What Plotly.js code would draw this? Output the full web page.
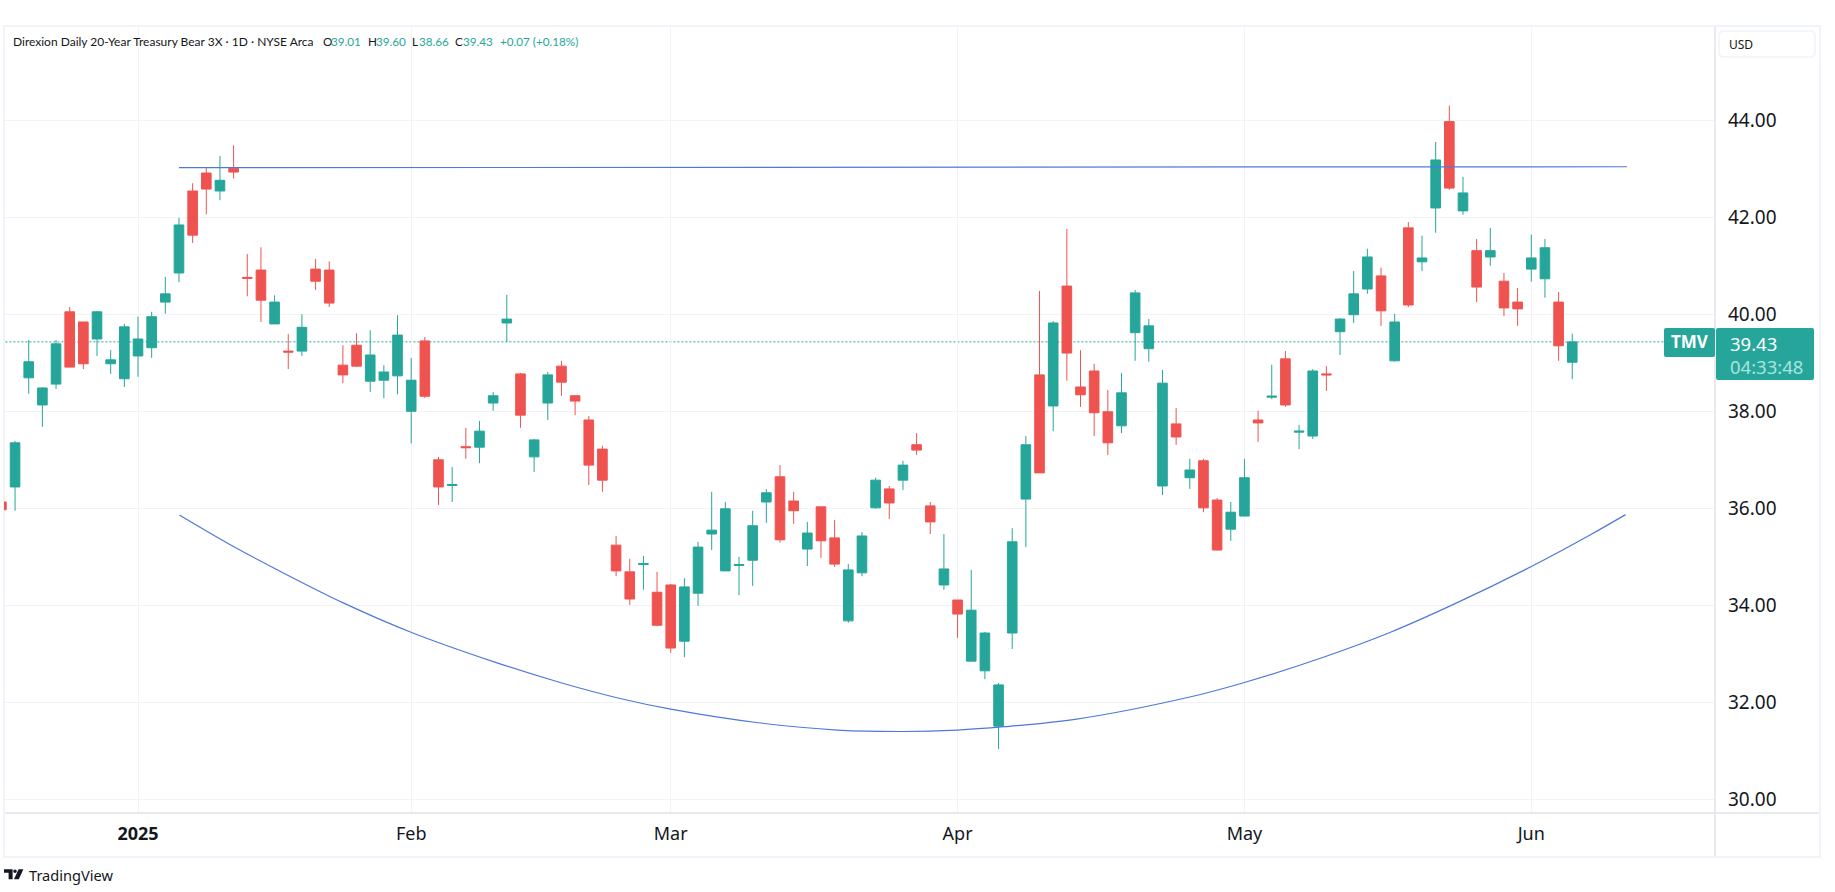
<!DOCTYPE html>
<html>
<head>
<meta charset="utf-8">
<script src="https://cdn.plot.ly/plotly-3.0.1.min.js"></script>
<style>html,body{margin:0;padding:0;background:#fff;overflow:hidden}#chart{width:1835px;height:892px}</style>
</head>
<body>
<div id="chart"></div>
<script>
// Session index: 0 = 2 Jan 2025
const sessions = [-10,-9,-8,-7,-6,-5,-4,-3,-2,-1,
0,1,2,3,4,5,6,7,8,9,10,11,12,13,14,15,16,17,18,19,
20,21,22,23,24,25,26,27,28,29,30,31,32,33,34,35,36,37,38,
39,40,41,42,43,44,45,46,47,48,49,50,51,52,53,54,55,56,57,58,59,
60,61,62,63,64,65,66,67,68,69,70,71,72,73,74,75,76,77,78,79,80,
81,82,83,84,85,86,87,88,89,90,91,92,93,94,95,96,97,98,99,100,101,
102,103,104,105];
const opens = [36.13,36.44,38.69,38.13,38.56,40.05,39.84,39.49,38.98,38.67,
39.14,39.31,40.25,40.85,42.54,42.91,42.54,43.01,40.76,40.91,39.80,39.24,39.24,40.93,40.91,38.95,39.36,38.62,38.64,38.73,
38.00,39.45,37.00,36.47,37.27,37.26,38.17,39.82,38.77,37.06,38.17,38.93,38.32,37.82,37.22,35.24,34.69,34.84,34.27,
34.42,33.26,34.25,35.47,34.71,34.82,34.93,36.13,36.65,36.15,35.16,36.03,35.39,33.68,34.67,36.01,36.40,36.58,37.31,36.05,34.42,
34.11,32.85,32.65,31.51,33.43,36.19,38.75,38.11,40.58,38.50,38.83,37.99,37.70,39.62,39.29,36.46,37.74,36.63,36.98,36.17,35.57,
35.84,37.82,38.29,39.08,37.57,37.49,38.77,39.64,39.99,40.52,40.79,39.04,41.78,41.08,42.19,43.97,42.13,41.31,41.18,40.68,40.25,
40.93,40.73,40.25,39.01];
const highs = [36.16,37.39,39.47,38.50,39.47,40.15,39.84,40.07,39.26,39.80,
39.95,40.05,40.77,41.99,42.70,43.03,43.26,43.48,41.24,41.38,40.39,39.59,40.00,41.14,41.09,39.36,39.61,39.67,38.95,39.98,
39.10,39.53,37.06,36.85,37.66,37.80,38.40,40.40,38.79,37.43,38.81,39.04,38.32,37.90,37.29,35.43,34.96,35.02,34.69,
34.44,34.56,35.31,36.34,36.13,35.00,35.95,36.40,36.89,36.34,35.72,36.03,35.76,34.85,35.51,36.63,36.46,36.98,37.55,36.13,35.47,
34.11,34.73,33.45,32.40,35.59,37.49,40.48,39.86,41.76,39.26,38.98,38.44,38.79,40.50,39.90,38.85,38.07,37.02,37.02,36.21,36.13,
37.02,38.01,38.96,39.24,37.72,38.87,38.93,39.92,40.89,41.35,40.96,40.01,41.90,41.62,43.55,44.30,42.83,41.55,41.78,40.85,40.54,
41.64,41.55,40.46,39.60];
const lows = [35.90,35.95,38.36,37.68,38.46,38.91,38.87,39.14,38.77,38.50,
38.71,39.10,40.01,40.66,41.47,42.06,42.35,42.80,40.37,39.84,39.80,38.87,39.14,40.50,40.15,38.58,38.91,38.40,38.27,38.35,
37.34,38.27,36.07,36.13,37.02,36.93,38.01,39.43,37.66,36.75,37.82,38.32,37.92,36.48,36.34,34.60,34.01,34.32,33.57,
33.02,32.93,33.99,35.14,34.71,34.21,34.40,35.70,35.29,35.68,34.81,34.98,34.79,33.64,34.60,35.99,35.78,36.38,37.10,35.47,34.32,
33.33,32.85,32.48,31.04,33.10,35.20,36.73,37.59,38.63,38.09,37.49,37.10,37.55,39.04,39.02,36.27,37.31,36.40,35.92,35.13,35.33,
35.84,37.37,38.25,38.09,37.22,37.43,38.42,39.16,39.82,40.42,39.76,39.02,40.15,40.89,41.68,42.56,42.05,40.25,41.00,39.96,39.76,
40.67,40.34,39.04,38.66];
const closes = [35.97,37.35,39.02,38.48,39.39,38.91,38.98,40.05,39.06,39.74,
39.49,39.95,40.42,41.84,41.63,42.58,42.76,42.93,40.74,40.29,40.25,39.22,39.73,40.68,40.23,38.75,38.93,39.16,38.81,39.57,
38.64,38.31,36.44,36.49,37.25,37.59,38.32,39.90,37.92,37.41,38.75,38.60,38.21,36.89,36.58,34.71,34.13,34.86,33.59,
33.12,34.38,35.20,35.55,35.99,34.84,35.64,36.32,35.35,35.95,35.49,35.33,34.85,34.73,35.43,36.58,36.11,36.89,37.20,35.72,34.75,
33.82,33.90,33.43,32.36,35.31,37.31,36.73,39.82,39.20,38.34,37.97,37.35,38.38,40.44,39.76,38.58,37.47,36.79,36.01,35.14,35.92,
36.63,37.76,38.31,38.13,37.59,38.83,38.75,39.90,40.42,41.18,40.07,39.84,40.19,41.16,43.18,42.60,42.50,40.56,41.31,40.13,40.11,
41.16,41.37,39.35,39.43];

const monthTicks = [0,20,39,60,81,102];
const monthLabels = ['<b>2025</b>','Feb','Mar','Apr','May','Jun'];
const priceTicks = [30,32,34,36,38,40,42,44];
const priceLabels = ['30.00','32.00','34.00','36.00','38.00','40.00','42.00','44.00'];

const resistanceX = [3,109];
const resistanceY = [43.02,43.04];
const arcX = [3.03,6.49,10.15,15.03,20.03,26.01,30.9,35.3,39,45.4,51.2,56,60,63.4,68.6,77,81,86.78,91.65,96.54,102,106.3,108.9];
const arcY = [35.86,35.29,34.74,34.05,33.44,32.84,32.41,32.08,31.86,31.58,31.43,31.40,31.43,31.50,31.65,32.11,32.41,32.93,33.44,34.05,34.80,35.45,35.87];
const lastPrice = 39.43;

const header = 'Direxion Daily 20-Year Treasury Bear 3X · 1D · NYSE Arca';
const ohlcPieces = [['O',322,'#131722'],['39.01',330,'#26a69a'],['H',367,'#131722'],['39.60',375,'#26a69a'],
['L',411,'#131722'],['38.66',418,'#26a69a'],['C',454,'#131722'],['39.43',462,'#26a69a'],['+0.07 (+0.18%)',499,'#26a69a']];

const W=1835,H=892,L=4,T=27,R=1715,B=813;
const px=X=>(X-L)/(R-L), py=Y=>(B-Y)/(B-T);
const FONT='"Noto Sans", sans-serif';
const HEAD='Lato, sans-serif';
function rr(x0,y0,x1,y1,r){
  const a=(X,Y)=>px(X)+','+py(Y);
  return 'M'+a(x0+r,y0)+' L'+a(x1-r,y0)+' Q'+a(x1,y0)+' '+a(x1,y0+r)+' L'+a(x1,y1-r)+' Q'+a(x1,y1)+' '+a(x1-r,y1)+
         ' L'+a(x0+r,y1)+' Q'+a(x0,y1)+' '+a(x0,y1-r)+' L'+a(x0,y0+r)+' Q'+a(x0,y0)+' '+a(x0+r,y0)+' Z';
}
function poly(pts){return 'M'+pts.map(p=>px(p[0])+','+py(p[1])).join(' L')+' Z';}
function txt(text,X,Y,size,color,anchor,family){
  return {text,x:px(X),y:py(Y),xref:'paper',yref:'paper',showarrow:false,xanchor:anchor||'left',yanchor:'middle',
    borderpad:0,font:{family:family||FONT,size,color}};
}
const shapes=[
 {type:'line',xref:'x',yref:'y',x0:-10,x1:113,y0:lastPrice,y1:lastPrice,layer:'below',line:{color:'#26a69a',width:1,dash:'2px,2px'}},
 {type:'rect',xref:'paper',yref:'paper',x0:px(4),x1:px(1820),y0:py(26),y1:py(857),layer:'below',line:{color:'#f0f3fa',width:2}},
 {type:'line',xref:'paper',yref:'paper',x0:px(1715),x1:px(1715),y0:py(27),y1:py(856),line:{color:'#e0e3eb',width:1.5}},
 {type:'line',xref:'paper',yref:'paper',x0:px(5),x1:px(1819),y0:py(813),y1:py(813),line:{color:'#e0e3eb',width:1.5}},
 {type:'path',xref:'paper',yref:'paper',path:rr(1719,31,1815,57,5),line:{color:'#f0f3fa',width:1.5},fillcolor:'#ffffff'},
 {type:'path',xref:'paper',yref:'paper',path:rr(1664,328,1715,357,2),line:{width:0},fillcolor:'#26a69a'},
 {type:'path',xref:'paper',yref:'paper',path:rr(1716,328,1814,380,2),line:{width:0},fillcolor:'#26a69a'},
 {type:'path',xref:'paper',yref:'paper',path:poly([[4,869.3],[12.6,869.3],[12.6,879.3],[8.6,879.3],[8.6,872.8],[4,872.8]]),line:{width:0},fillcolor:'#131722'},
 {type:'circle',xref:'paper',yref:'paper',x0:px(13.2),x1:px(16.8),y0:py(873),y1:py(869.4),line:{width:0},fillcolor:'#131722'},
 {type:'path',xref:'paper',yref:'paper',path:poly([[18.6,869.3],[23.4,869.3],[18.8,879.3],[14,879.3]]),line:{width:0},fillcolor:'#131722'}
];
const annotations=[
 txt(header,12,41.5,12,'#131722','left',HEAD),
 ...ohlcPieces.map(p=>txt(p[0],p[1],41.5,11.7,p[2],'left',HEAD)),
 txt('USD',1728,44.5,12,'#131722'),
 txt('<b>TMV</b>',1689.5,342,17,'#ffffff','center'),
 txt('39.43',1729,343.5,18.5,'#ffffff'),
 txt('04:33:48',1729,366,18.5,'#a8e4de'),
 txt('TradingView',28,875,14.6,'#131722')
];
const data=[
 {type:'candlestick',x:sessions,open:opens,high:highs,low:lows,close:closes,
  increasing:{line:{color:'#26a69a',width:1},fillcolor:'#26a69a'},
  decreasing:{line:{color:'#ef5350',width:1},fillcolor:'#ef5350'},
  whiskerwidth:0,hoverinfo:'skip',showlegend:false},
 {type:'scatter',mode:'lines',x:resistanceX,y:resistanceY,line:{color:'#4f78dc',width:1.2},hoverinfo:'skip',showlegend:false},
 {type:'scatter',mode:'lines',x:arcX,y:arcY,line:{color:'#4f78dc',width:1.2,shape:'spline',smoothing:1},hoverinfo:'skip',showlegend:false}
];
const layout={
 width:W,height:H,margin:{l:L,r:W-R,t:T,b:H-B,pad:0},
 paper_bgcolor:'#ffffff',plot_bgcolor:'#ffffff',showlegend:false,hovermode:false,
 boxgap:0.2,boxgroupgap:0.12,boxmode:'overlay',
 font:{family:FONT,color:'#131722'},
 xaxis:{type:'linear',range:[-9.81,115.45],tickvals:monthTicks,ticktext:monthLabels,showgrid:true,gridcolor:'#f2f3f6',gridwidth:1,
  zeroline:false,showline:false,ticks:'',ticklen:0,tickfont:{family:FONT,size:18,color:'#131722'},rangeslider:{visible:false},automargin:false,ticklabelstandoff:8},
 yaxis:{side:'right',range:[29.72,45.92],tickvals:priceTicks,ticktext:priceLabels,showgrid:true,gridcolor:'#f2f3f6',gridwidth:1,
  zeroline:false,showline:false,ticks:'',ticklen:0,tickfont:{family:FONT,size:19,color:'#131722'},automargin:false,ticklabelstandoff:12},
 shapes,annotations
};
Plotly.newPlot('chart',data,layout,{displayModeBar:false,staticPlot:true});
</script>
</body>
</html>
